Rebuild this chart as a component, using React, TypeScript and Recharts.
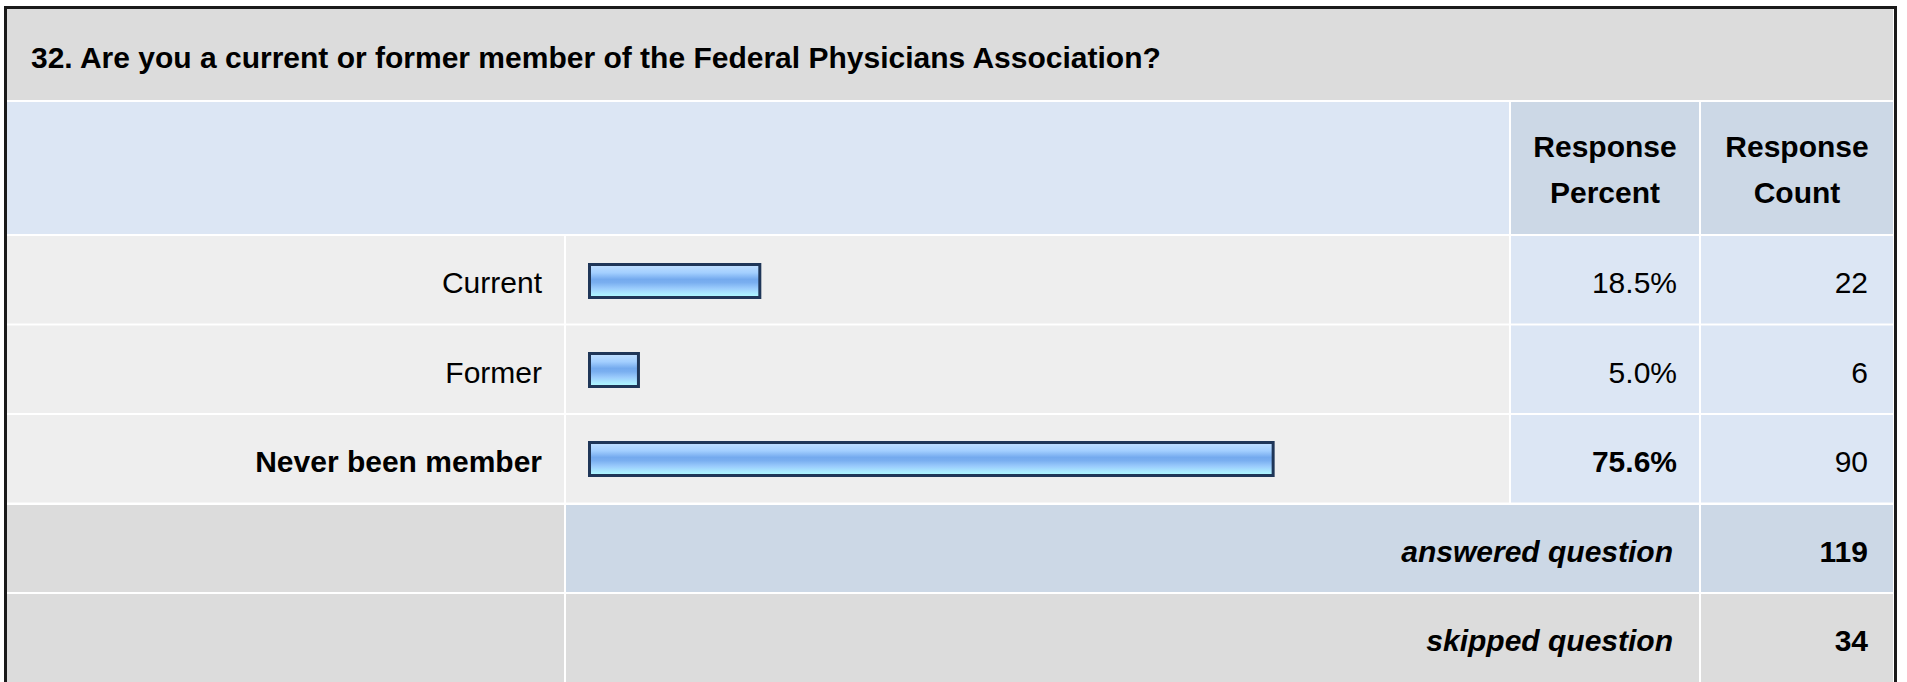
import { FC } from "react";
import { BarChart, Bar, XAxis, YAxis } from "recharts";

const answerLabels = ["Current", "Former", "Never been member"];
const responsePercent = [18.5, 5.0, 75.6];
const responseCount = [22, 6, 90];
const answeredQuestion = 119;
const skippedQuestion = 34;
const questionTitle =
  "32. Are you a current or former member of the Federal Physicians Association?";

const data = answerLabels.map((label, i) => ({
  label,
  percent: responsePercent[i],
  count: responseCount[i],
}));
const topPercent = Math.max(...responsePercent);

const FONT = "Arial, 'Liberation Sans', Helvetica, sans-serif";
const GRAY = "#dcdcdc";
const LIGHT = "#eeeeee";
const BLUE = "#dce6f4";
const BLUE_DARK = "#ccd8e6";

// column edges
const LABEL = [7, 564];
const BARCOL = [566, 1509];
const PCT = [1511, 1699];
const CNT = [1701, 1893];

const ROW0 = 236;
const ROW_STEP = 89.5;
const ROW_H = 87.5;

const BarShape = (props: any) => {
  const { x, y, width, height } = props;
  return (
    <rect
      x={x + 1.5}
      y={y + 1.5}
      width={width + 4}
      height={height - 3}
      fill="url(#fpaBarGrad)"
      stroke="#1f3658"
      strokeWidth={3}
    />
  );
};

const Cell: FC<{ x: number[]; y: number; h: number; fill: string }> = ({ x, y, h, fill }) => (
  <rect x={x[0]} y={y} width={x[1] - x[0]} height={h} fill={fill} />
);

const App: FC = () => {
  const t = { fontFamily: FONT, fontSize: 30, fill: "#000" } as const;
  return (
    <div
      style={{
        position: "absolute",
        left: 0,
        top: 0,
        width: 1907,
        height: 682,
        overflow: "hidden",
        background: "#fff",
      }}
    >
      <svg width={1907} height={682} style={{ position: "absolute", left: 0, top: 0 }}>
        <rect x={5.5} y={7.5} width={1890} height={700} fill="#fff" stroke="#1a1a1a" strokeWidth={3} />
        {/* title */}
        <rect x={7} y={9} width={1886} height={91} fill={GRAY} />
        <text x={31} y={68} {...t} fontWeight="bold">
          {questionTitle}
        </text>
        {/* header */}
        <Cell x={[LABEL[0], BARCOL[1]]} y={102} h={132} fill={BLUE} />
        <Cell x={PCT} y={102} h={132} fill={BLUE_DARK} />
        <Cell x={CNT} y={102} h={132} fill={BLUE_DARK} />
        <text x={1605} y={157} {...t} fontWeight="bold" textAnchor="middle">Response</text>
        <text x={1605} y={203} {...t} fontWeight="bold" textAnchor="middle">Percent</text>
        <text x={1797} y={157} {...t} fontWeight="bold" textAnchor="middle">Response</text>
        <text x={1797} y={203} {...t} fontWeight="bold" textAnchor="middle">Count</text>
        {/* answer rows */}
        {data.map((d, i) => {
          const y = ROW0 + i * ROW_STEP;
          const base = y + ROW_H / 2 + 13.5;
          const bold = d.percent === topPercent ? "bold" : "normal";
          return (
            <g key={d.label}>
              <Cell x={LABEL} y={y} h={ROW_H} fill={LIGHT} />
              <Cell x={BARCOL} y={y} h={ROW_H} fill={LIGHT} />
              <Cell x={PCT} y={y} h={ROW_H} fill={BLUE} />
              <Cell x={CNT} y={y} h={ROW_H} fill={BLUE} />
              <text x={542} y={base} {...t} fontWeight={bold} textAnchor="end">{d.label}</text>
              <text x={1677} y={base} {...t} fontWeight={bold} textAnchor="end">
                {d.percent.toFixed(1) + "%"}
              </text>
              <text x={1868} y={base} {...t} textAnchor="end">{d.count}</text>
            </g>
          );
        })}
        {/* answered */}
        <Cell x={LABEL} y={505} h={87} fill={GRAY} />
        <Cell x={[BARCOL[0], PCT[1]]} y={505} h={87} fill={BLUE_DARK} />
        <Cell x={CNT} y={505} h={87} fill={BLUE_DARK} />
        <text x={1673} y={562} {...t} fontWeight="bold" fontStyle="italic" textAnchor="end">
          answered question
        </text>
        <text x={1868} y={562} {...t} fontWeight="bold" textAnchor="end">{answeredQuestion}</text>
        {/* skipped */}
        <Cell x={LABEL} y={594} h={100} fill={GRAY} />
        <Cell x={[BARCOL[0], PCT[1]]} y={594} h={100} fill={GRAY} />
        <Cell x={CNT} y={594} h={100} fill={GRAY} />
        <text x={1673} y={651} {...t} fontWeight="bold" fontStyle="italic" textAnchor="end">
          skipped question
        </text>
        <text x={1868} y={651} {...t} fontWeight="bold" textAnchor="end">{skippedQuestion}</text>
      </svg>

      <div style={{ position: "absolute", left: 588, top: 236 }}>
        <BarChart
          width={899}
          height={267}
          data={data}
          layout="vertical"
          margin={{ top: 0, right: 0, bottom: 0, left: 0 }}
          barCategoryGap={0}
        >
          <defs>
            <linearGradient id="fpaBarGrad" x1="0" y1="0" x2="0" y2="1">
              <stop offset="0%" stopColor="#c2e0ff" />
              <stop offset="25%" stopColor="#a3cfff" />
              <stop offset="45%" stopColor="#74aaee" />
              <stop offset="55%" stopColor="#7aaff0" />
              <stop offset="72%" stopColor="#9acbfc" />
              <stop offset="86%" stopColor="#a9e6ff" />
              <stop offset="100%" stopColor="#aeffff" />
            </linearGradient>
          </defs>
          <XAxis type="number" domain={[0, 100]} hide />
          <YAxis type="category" dataKey="label" hide />
          <Bar dataKey="percent" barSize={36} shape={BarShape} isAnimationActive={false} />
        </BarChart>
      </div>
    </div>
  );
};

export default App;
